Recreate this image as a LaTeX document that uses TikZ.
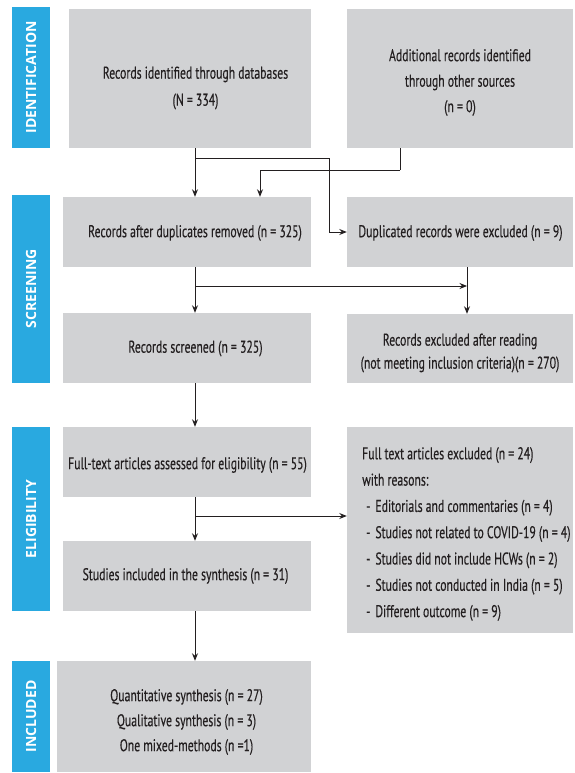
\documentclass[tikz,border=0pt]{standalone}
\usepackage{fontspec}
\setmainfont{PT Sans}[FakeStretch=0.69,FakeBold=0.35]
\newfontfamily\lblfont{Open Sans}
\usetikzlibrary{arrows.meta,calc}
\definecolor{boxgray}{HTML}{D1D2D4}
\definecolor{barblue}{HTML}{29A9E0}
\definecolor{ink}{HTML}{231F20}
\begin{document}
\begin{tikzpicture}[x=1pt,y=-1pt,
  box/.style={fill=boxgray,draw=none,inner sep=0pt},
  txt/.style={inner sep=0pt,text=ink,align=center,font=\fontsize{17}{25}\selectfont},
  bar/.style={fill=barblue,draw=none,inner sep=0pt},
  bartext/.style={text=white,rotate=90,font=\lblfont\bfseries\fontsize{14}{16}\selectfont},
  arr/.style={draw=ink,line width=0.9pt,-{Stealth[length=7.5pt,width=6pt]}},
  ln/.style={draw=ink,line width=0.9pt}]
\useasboundingbox (0,0) rectangle (575,773);
% phase bars
\node[bar,minimum width=38pt,minimum height=141pt] (pid) at (31,77.5) {};
\node[bartext] (lid) at (pid.center) {IDENTIFICATION};
\node[bar,minimum width=38pt,minimum height=188pt] (psc) at (31,289) {};
\node[bartext] (lsc) at (psc.center) {SCREENING};
\node[bar,minimum width=38pt,minimum height=184pt] (pel) at (31,519) {};
\node[bartext] (lel) at (pel.center) {ELIGIBILITY};
\node[bar,minimum width=38pt,minimum height=111pt] (pin) at (31,716.5) {};
\node[bartext] (lin) at (pin.center) {INCLUDED};
% boxes
\node[box,minimum width=242pt,minimum height=139pt] (b1) at (190,78.5) {};
\node[box,minimum width=226pt,minimum height=139pt] (b2) at (460,78.5) {};
\node[box,minimum width=248pt,minimum height=70pt] (b3) at (187,232) {};
\node[box,minimum width=226pt,minimum height=70pt] (b4) at (460,232) {};
\node[box,minimum width=248pt,minimum height=70pt] (b5) at (187,348) {};
\node[box,minimum width=226pt,minimum height=69pt] (b6) at (460,348.5) {};
\node[box,minimum width=248pt,minimum height=70pt] (b7) at (187,462) {};
\node[box,minimum width=248pt,minimum height=70pt] (b8) at (187,576) {};
\node[box,minimum width=226pt,minimum height=206pt] (b9) at (460,530) {};
\node[box,minimum width=254pt,minimum height=111pt] (b10) at (184,716.5) {};
% texts
\node[txt,font=\fontsize{17}{27}\selectfont] (t1) at (195.5,88)
  {Records identified through databases\\(N = 334)};
\node[txt,font=\fontsize{17}{25.5}\selectfont] (t2) at (460,82.5)
  {Additional records identified\\through other sources\\(n = 0)};
\node[txt] (t3) at (195,233) {Records after duplicates removed (n = 325)};
\node[txt] (t4) at (460.5,233) {Duplicated records were excluded (n = 9)};
\node[txt] (t5) at (195.5,348.5) {Records screened (n = 325)};
\node[txt,font=\fontsize{17}{23}\selectfont] (t6) at (460,353)
  {Records excluded after reading\\(not meeting inclusion criteria)(n = 270)};
\node[txt] (t7) at (187.5,465) {Full-text articles assessed for eligibility (n = 55)};
\node[txt] (t8) at (185.5,576) {Studies included in the synthesis (n = 31)};
\node[txt,align=left,anchor=west,font=\fontsize{17}{26.3}\selectfont] (t9) at (362,534)
  {Full text articles excluded (n = 24)\\
   with reasons:\\
   \hspace*{4pt}-\hspace{5pt}Editorials and commentaries (n = 4)\\
   \hspace*{4pt}-\hspace{5pt}Studies not related to COVID-19 (n = 4)\\
   \hspace*{4pt}-\hspace{5pt}Studies did not include HCWs (n = 2)\\
   \hspace*{4pt}-\hspace{5pt}Studies not conducted in India (n = 5)\\
   \hspace*{4pt}-\hspace{5pt}Different outcome (n = 9)};
\node[txt] (t10) at (186.5,722)
  {Quantitative synthesis (n = 27)\\Qualitative synthesis (n = 3)\\One mixed-methods (n =1)};
% guide coordinates
\coordinate (spine) at (195,0);
\coordinate (j1) at (195,158);
\coordinate (k1) at (329,158);
\coordinate (x2) at (400,0);
\coordinate (j2) at (400,170);
\coordinate (x3) at (260,0);
\coordinate (j3) at (195,286);
\coordinate (x4) at (467,0);
\coordinate (j4) at (195,516);
% connectors
\draw[arr] (b1.south -| spine) -- (b3.north -| spine);
\draw[ln] (j1) -- (k1);
\draw[arr] (k1) |- (b4.west);
\draw[ln] (b2.south -| x2) -- (j2);
\draw[arr] (j2) -| (b3.north -| x3);
\draw[arr] (b3.south -| spine) -- (b5.north -| spine);
\draw[arr] (j3) -- (j3 -| x4);
\draw[arr] (b4.south -| x4) -- (b6.north -| x4);
\draw[arr] (b5.south -| spine) -- (b7.north -| spine);
\draw[arr] (b7.south -| spine) -- (b8.north -| spine);
\draw[arr] (j4) -- (j4 -| b9.west);
\draw[arr] (b8.south -| spine) -- (b10.north -| spine);
\end{tikzpicture}
\end{document}
